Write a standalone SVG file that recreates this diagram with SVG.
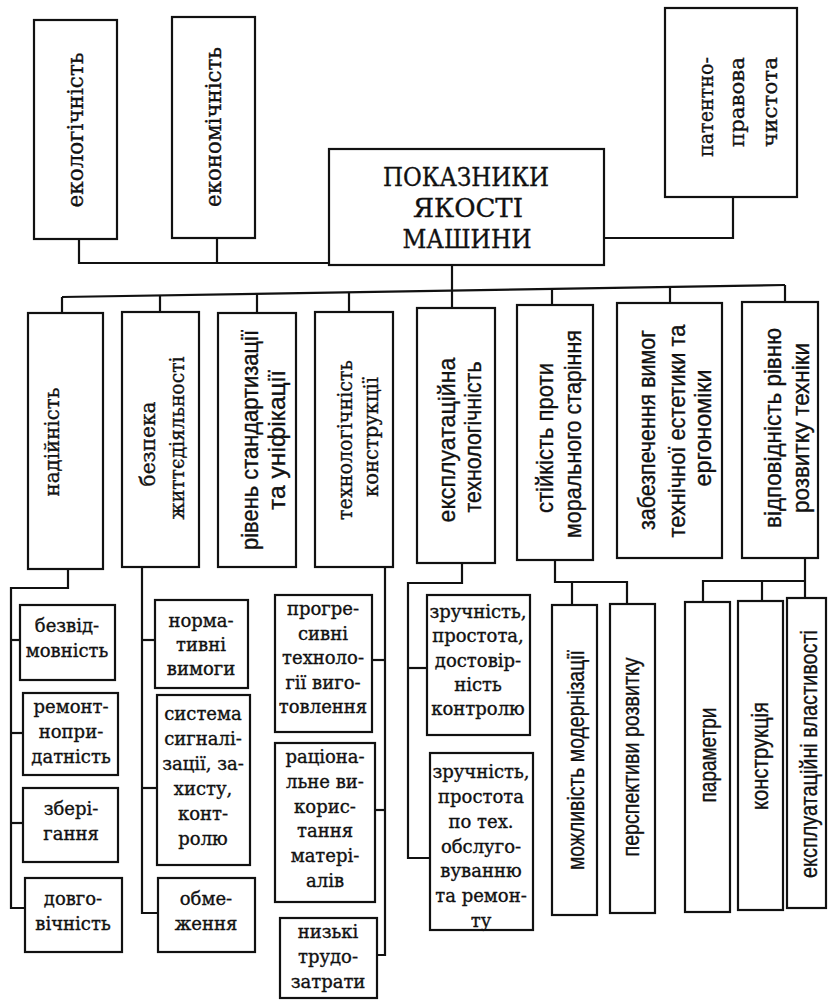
<svg xmlns="http://www.w3.org/2000/svg" width="828" height="1003" viewBox="0 0 828 1003">
  <style>
    .box { fill: #ffffff; stroke: #111; stroke-width: 2.2; }
    .ln { fill: none; stroke: #111; stroke-width: 2.2; }
    text { fill: #111; stroke: #111; stroke-width: 0.35; }
    .s { font-family: 'DejaVu Serif', serif; }
    .n { font-family: 'Liberation Sans Narrow', 'Liberation Sans', Arial, sans-serif; }
    .c { text-anchor: middle; }
    .e { text-anchor: end; }
    .f18 { font-size: 18px; }
    .f21 { font-size: 21px; }
    .f22 { font-size: 22.5px; }
    .f24 { font-size: 24px; }
    .ttl { font-size: 25.5px; }
  </style>
  <rect width="828" height="1003" fill="#ffffff"/>

  <!-- connectors -->
  <g id="connectors" class="ln">
    <!-- top level -->
    <polyline points="79,239 79,263 329,263"/>
    <line x1="217" y1="238" x2="217" y2="262"/>
    <polyline points="733,197 733,238 604,238"/>
    <line x1="452" y1="265" x2="452" y2="308"/>
    <!-- main bus -->
    <line x1="62" y1="297" x2="785" y2="285"/>
    <line x1="62" y1="297" x2="62" y2="313"/>
    <line x1="160" y1="295.4" x2="160" y2="312"/>
    <line x1="257" y1="293.8" x2="257" y2="313"/>
    <line x1="349" y1="292.2" x2="349" y2="312"/>
    <line x1="552" y1="288.9" x2="552" y2="305"/>
    <line x1="670" y1="286.9" x2="670" y2="303"/>
    <line x1="785" y1="285" x2="785" y2="302"/>
    <!-- надійність -->
    <polyline points="68,569 68,588 11,588 11,908 25,908"/>
    <line x1="11" y1="640" x2="20" y2="640"/>
    <line x1="11" y1="733" x2="23" y2="733"/>
    <line x1="11" y1="823" x2="23" y2="823"/>
    <!-- безпека життєдіяльності -->
    <polyline points="142,567 142,913 158,913"/>
    <line x1="142" y1="640" x2="155" y2="640"/>
    <line x1="142" y1="788" x2="157" y2="788"/>
    <!-- технологічність конструкції -->
    <polyline points="385,567 385,955 377,955"/>
    <line x1="385" y1="660" x2="372" y2="660"/>
    <line x1="385" y1="810" x2="375" y2="810"/>
    <!-- експлуатаційна технологічність -->
    <polyline points="462,563 462,583 408,583 408,858 430,858"/>
    <line x1="408" y1="668" x2="427" y2="668"/>
    <!-- стійкість проти морального старіння -->
    <polyline points="555,560 555,582 627,582 627,604"/>
    <line x1="572" y1="582" x2="572" y2="605"/>
    <!-- відповідність рівню розвитку техніки -->
    <line x1="805" y1="558" x2="805" y2="598"/>
    <polyline points="703,602 703,581 805,581"/>
    <line x1="762" y1="581" x2="762" y2="601"/>
  </g>

  <!-- top row -->
  <g id="ekologichnist">
    <rect class="box" x="34" y="20" width="83" height="219"/>
    <text class="s f22 c" transform="translate(83,130) rotate(-90)" textLength="155" lengthAdjust="spacingAndGlyphs">екологічність</text>
  </g>
  <g id="ekonomichnist">
    <rect class="box" x="172" y="17" width="83" height="221"/>
    <text class="s f22 c" transform="translate(221,127) rotate(-90)" textLength="160" lengthAdjust="spacingAndGlyphs">економічність</text>
  </g>
  <g id="pokaznyky">
    <rect class="box" x="329" y="149" width="275" height="116"/>
    <text class="s ttl c" x="466" y="186" textLength="166" lengthAdjust="spacingAndGlyphs">ПОКАЗНИКИ</text>
    <text class="s ttl c" x="468" y="217" textLength="110" lengthAdjust="spacingAndGlyphs">ЯКОСТІ</text>
    <text class="s ttl c" x="467" y="248" textLength="129" lengthAdjust="spacingAndGlyphs">МАШИНИ</text>
  </g>
  <g id="patentna-chystota">
    <rect class="box" x="665" y="8" width="132" height="189"/>
    <text class="s f21 e" transform="translate(713,57) rotate(-90)" textLength="100" lengthAdjust="spacingAndGlyphs">патентно-</text>
    <text class="s f21 e" transform="translate(744,57) rotate(-90)" textLength="90" lengthAdjust="spacingAndGlyphs">правова</text>
    <text class="s f21 e" transform="translate(777,57) rotate(-90)" textLength="90" lengthAdjust="spacingAndGlyphs">чистота</text>
  </g>

  <!-- second row -->
  <g id="nadiinist">
    <rect class="box" x="28" y="313" width="75" height="256"/>
    <text class="s f21 c" transform="translate(59,442) rotate(-90)" textLength="109" lengthAdjust="spacingAndGlyphs">надійність</text>
  </g>
  <g id="bezpeka">
    <rect class="box" x="122" y="312" width="77" height="255"/>
    <text class="s f21 c" transform="translate(155,444) rotate(-90)" textLength="85" lengthAdjust="spacingAndGlyphs">безпека</text>
    <text class="s f21 c" transform="translate(184,438) rotate(-90)" textLength="163" lengthAdjust="spacingAndGlyphs">життєдіяльності</text>
  </g>
  <g id="standartyzatsiia">
    <rect class="box" x="218" y="313" width="78" height="254"/>
    <text class="n f24 c" transform="translate(258,440) rotate(-90)" textLength="220" lengthAdjust="spacingAndGlyphs">рівень стандартизації</text>
    <text class="n f24 c" transform="translate(285,440) rotate(-90)" textLength="140" lengthAdjust="spacingAndGlyphs">та  уніфікації</text>
  </g>
  <g id="tekhnolohichnist">
    <rect class="box" x="315" y="312" width="78" height="255"/>
    <text class="s f21 c" transform="translate(352,440) rotate(-90)" textLength="160" lengthAdjust="spacingAndGlyphs">технологічність</text>
    <text class="s f21 c" transform="translate(378,437) rotate(-90)" textLength="120" lengthAdjust="spacingAndGlyphs">конструкції</text>
  </g>
  <g id="ekspluatatsiina">
    <rect class="box" x="417" y="308" width="78" height="255"/>
    <text class="n f24 c" transform="translate(455,440) rotate(-90)" textLength="165" lengthAdjust="spacingAndGlyphs">експлуатаційна</text>
    <text class="n f24 c" transform="translate(481,437) rotate(-90)" textLength="151" lengthAdjust="spacingAndGlyphs">технологічність</text>
  </g>
  <g id="stiikist">
    <rect class="box" x="517" y="305" width="76" height="255"/>
    <text class="n f24 c" transform="translate(553,438) rotate(-90)" textLength="150" lengthAdjust="spacingAndGlyphs">стійкість проти</text>
    <text class="n f24 c" transform="translate(581,434) rotate(-90)" textLength="208" lengthAdjust="spacingAndGlyphs">морального старіння</text>
  </g>
  <g id="ergonomika">
    <rect class="box" x="617" y="303" width="105" height="255"/>
    <text class="n f24 c" transform="translate(655,430) rotate(-90)" textLength="200" lengthAdjust="spacingAndGlyphs">забезпечення вимог</text>
    <text class="n f24 c" transform="translate(685,431) rotate(-90)" textLength="213" lengthAdjust="spacingAndGlyphs">технічної естетики та</text>
    <text class="n f24 c" transform="translate(711,428) rotate(-90)" textLength="117" lengthAdjust="spacingAndGlyphs">ергономіки</text>
  </g>
  <g id="vidpovidnist">
    <rect class="box" x="742" y="302" width="76" height="256"/>
    <text class="n f24 c" transform="translate(781,428) rotate(-90)" textLength="200" lengthAdjust="spacingAndGlyphs">відповідність рівню</text>
    <text class="n f24 c" transform="translate(809,428) rotate(-90)" textLength="170" lengthAdjust="spacingAndGlyphs">розвитку техніки</text>
  </g>

  <!-- надійність: components -->
  <g id="bezvidmovnist">
    <rect class="box" x="20" y="605" width="95" height="75"/>
    <text class="s f18 c" x="67" y="632">безвід-</text>
    <text class="s f18 c" x="67" y="657">мовність</text>
  </g>
  <g id="remontoprydatnist">
    <rect class="box" x="23" y="693" width="95" height="82"/>
    <text class="s f18 c" x="71" y="713">ремонт-</text>
    <text class="s f18 c" x="71" y="738">нопри-</text>
    <text class="s f18 c" x="71" y="763">датність</text>
  </g>
  <g id="zberihannia">
    <rect class="box" x="23" y="788" width="95" height="74"/>
    <text class="s f18 c" x="71" y="815">збері-</text>
    <text class="s f18 c" x="71" y="840">гання</text>
  </g>
  <g id="dovhovichnist">
    <rect class="box" x="25" y="878" width="97" height="74"/>
    <text class="s f18 c" x="73" y="905">довго-</text>
    <text class="s f18 c" x="73" y="930">вічність</text>
  </g>

  <!-- безпека життєдіяльності: components -->
  <g id="normatyvni-vymohy">
    <rect class="box" x="155" y="600" width="93" height="88"/>
    <text class="s f18 c" x="201" y="627">норма-</text>
    <text class="s f18 c" x="201" y="651">тивні</text>
    <text class="s f18 c" x="201" y="675">вимоги</text>
  </g>
  <g id="systema-syhnalizatsii">
    <rect class="box" x="157" y="695" width="93" height="170"/>
    <text class="s f18 c" x="203" y="720">система</text>
    <text class="s f18 c" x="203" y="745">сигналі-</text>
    <text class="s f18 c" x="203" y="770">зації, за-</text>
    <text class="s f18 c" x="203" y="795">хисту,</text>
    <text class="s f18 c" x="203" y="820">конт-</text>
    <text class="s f18 c" x="203" y="845">ролю</text>
  </g>
  <g id="obmezhennia">
    <rect class="box" x="158" y="878" width="97" height="74"/>
    <text class="s f18 c" x="206" y="905">обме-</text>
    <text class="s f18 c" x="206" y="930">ження</text>
  </g>

  <!-- технологічність конструкції: components -->
  <g id="prohresyvni-tekhnolohii">
    <rect class="box" x="275" y="595" width="97" height="137"/>
    <text class="s f18 c" x="323" y="615">прогре-</text>
    <text class="s f18 c" x="323" y="640">сивні</text>
    <text class="s f18 c" x="323" y="664">техноло-</text>
    <text class="s f18 c" x="323" y="689">гії виго-</text>
    <text class="s f18 c" x="323" y="713">товлення</text>
  </g>
  <g id="ratsionalne-vykorystannia">
    <rect class="box" x="275" y="743" width="100" height="159"/>
    <text class="s f18 c" x="325" y="763">раціона-</text>
    <text class="s f18 c" x="325" y="788">льне ви-</text>
    <text class="s f18 c" x="325" y="813">корис-</text>
    <text class="s f18 c" x="325" y="837">тання</text>
    <text class="s f18 c" x="325" y="862">матері-</text>
    <text class="s f18 c" x="325" y="887">алів</text>
  </g>
  <g id="nyzki-trudozatraty">
    <rect class="box" x="280" y="918" width="97" height="80"/>
    <text class="s f18 c" x="328" y="938">низькі</text>
    <text class="s f18 c" x="328" y="963">трудо-</text>
    <text class="s f18 c" x="328" y="988">затрати</text>
  </g>

  <!-- експлуатаційна технологічність: components -->
  <g id="kontrol">
    <rect class="box" x="427" y="595" width="103" height="140"/>
    <text class="s f18 c" x="478" y="618">зручність,</text>
    <text class="s f18 c" x="478" y="642">простота,</text>
    <text class="s f18 c" x="478" y="667">достовір-</text>
    <text class="s f18 c" x="478" y="691">ність</text>
    <text class="s f18 c" x="478" y="715">контролю</text>
  </g>
  <g id="obsluhovuvannia">
    <rect class="box" x="430" y="753" width="103" height="177"/>
    <text class="s f18 c" x="481" y="778">зручність,</text>
    <text class="s f18 c" x="481" y="803">простота</text>
    <text class="s f18 c" x="481" y="828">по тех.</text>
    <text class="s f18 c" x="481" y="853">обслуго-</text>
    <text class="s f18 c" x="481" y="877">вуванню</text>
    <text class="s f18 c" x="481" y="902">та ремон-</text>
    <text class="s f18 c" x="481" y="927">ту</text>
  </g>

  <!-- стійкість проти морального старіння: components -->
  <g id="modernizatsiia">
    <rect class="box" x="552" y="605" width="45" height="310"/>
    <text class="n f24 c" transform="translate(584,760) rotate(-90)" textLength="220" lengthAdjust="spacingAndGlyphs">можливість модернізації</text>
  </g>
  <g id="perspektyvy">
    <rect class="box" x="610" y="604" width="45" height="309"/>
    <text class="n f24 c" transform="translate(639,757) rotate(-90)" textLength="199" lengthAdjust="spacingAndGlyphs">перспективи розвитку</text>
  </g>

  <!-- відповідність рівню розвитку техніки: components -->
  <g id="parametry">
    <rect class="box" x="685" y="602" width="45" height="310"/>
    <text class="n f24 c" transform="translate(716,755) rotate(-90)" textLength="95" lengthAdjust="spacingAndGlyphs">параметри</text>
  </g>
  <g id="konstruktsiia">
    <rect class="box" x="738" y="601" width="45" height="309"/>
    <text class="n f24 c" transform="translate(768,756) rotate(-90)" textLength="108" lengthAdjust="spacingAndGlyphs">конструкція</text>
  </g>
  <g id="ekspluatatsiini-vlastyvosti">
    <rect class="box" x="787" y="598" width="39" height="310"/>
    <text class="n f24 c" transform="translate(817,754) rotate(-90)" textLength="248" lengthAdjust="spacingAndGlyphs">експлуатаційні властивості</text>
  </g>
</svg>
